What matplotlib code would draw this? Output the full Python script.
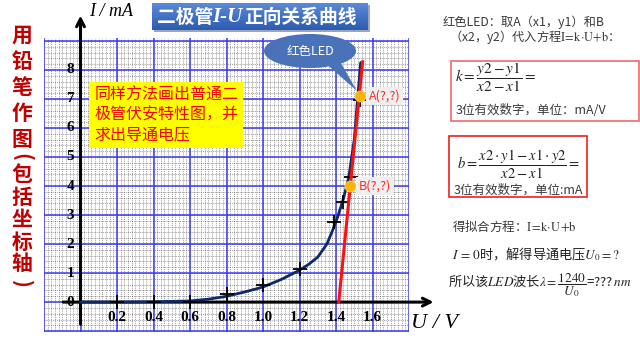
import matplotlib
matplotlib.use("Agg")
import matplotlib.pyplot as plt
import numpy as np
from matplotlib.patches import Ellipse, Polygon, Rectangle

plt.rcParams['font.family'] = ['Noto Sans CJK SC', 'DejaVu Sans']
plt.rcParams['mathtext.fontset'] = 'stix'

# measured points (U in V, I in mA)
u_pts = [0.2, 0.4, 0.6, 0.8, 1.0, 1.2, 1.39, 1.44, 1.48, 1.53]
i_pts = [0.0, 0.0, 0.0, 0.28, 0.58, 1.14, 2.76, 3.45, 4.3, 6.97]

# hand drawn curve
u_curve = [0, 0.2, 0.4, 0.6, 0.7, 0.8, 0.9, 1.0, 1.1, 1.2, 1.25, 1.3, 1.35, 1.38, 1.41, 1.44, 1.47, 1.5, 1.535]
i_curve = [0, 0, 0.01, 0.04, 0.1, 0.2, 0.35, 0.52, 0.78, 1.1, 1.3, 1.55, 2.0, 2.45, 2.95, 3.55, 4.3, 5.6, 8.25]

# red fitted line
u_line = [1.415, 1.546]
i_line = [0.0, 8.28]

# points A and B
u_ab = [1.53, 1.475]
i_ab = [7.1, 4.0]
ab_names = ['A(?,?)', 'B(?,?)']

x_ticks = [0.2, 0.4, 0.6, 0.8, 1.0, 1.2, 1.4, 1.6]
y_ticks = [0, 1, 2, 3, 4, 5, 6, 7, 8]


def fx(px):
    return px / 640


def fy(py):
    return 1 - py / 360


fig = plt.figure(figsize=(6.4, 3.6), dpi=100)
ax = fig.add_axes([fx(44), fy(332), 365 / 640, 294 / 360])
ax.set_xlim(-0.2, 1.8)
ax.set_ylim(-1.03, 9.1)
for s in ax.spines.values():
    s.set_visible(False)
ax.set_xticks([])
ax.set_yticks([])

# fine dashed grid
for xv in np.arange(-0.2, 1.8, 0.02):
    ax.axvline(xv, color='black', lw=0.5, ls=(0, (1.5, 1.5)), alpha=0.5, zorder=0)
for yv in np.arange(-1.0, 9.1, 0.2):
    ax.axhline(yv, color='black', lw=0.5, ls=(0, (1.5, 1.5)), alpha=0.5, zorder=0)
# blue major grid
for xv in np.arange(-0.2, 1.81, 0.2):
    ax.axvline(xv, color='#3a3aee', lw=1.1, zorder=1)
for yv in range(-1, 10):
    ax.axhline(yv, color='#3a3aee', lw=1.1, zorder=1)

# axes arrows
ax.annotate('', xy=(1.95, 0), xytext=(-0.11, 0), annotation_clip=False,
            arrowprops=dict(arrowstyle='->', lw=2.2, color='black', mutation_scale=14), zorder=3)
ax.annotate('', xy=(0, 9.97), xytext=(0, -0.86), annotation_clip=False,
            arrowprops=dict(arrowstyle='->', lw=2.2, color='black', mutation_scale=14), zorder=3)

for xv in x_ticks:
    ax.text(xv, -0.52, f'{xv:.1f}', ha='center', va='center', fontsize=11,
            family='Liberation Serif', weight='bold', zorder=4)
for yv in y_ticks:
    ax.text(-0.035, yv, str(yv), ha='right', va='center', fontsize=11,
            family='Liberation Serif', weight='bold', zorder=4)

ax.text(0.045, 10.0, 'I / mA', fontsize=13, family='Liberation Serif', style='italic',
        ha='left', va='center', clip_on=False)
ax.text(1.81, -0.72, 'U / V', fontsize=16, family='Liberation Serif', style='italic',
        ha='left', va='center', clip_on=False)

ax.plot(u_curve, i_curve, color='#0d2a66', lw=2, zorder=5, solid_capstyle='round')
ax.plot(u_pts, i_pts, ls='none', marker='+', ms=10, mew=1.3, color='black', zorder=6)
ax.plot(u_line, i_line, color='#ff1010', lw=2.2, zorder=7)
ax.plot(u_ab, i_ab, ls='none', marker='o', ms=7.5, color='#f5b400', mec='#f8c830', zorder=8)
for u, i, name in zip(u_ab, i_ab, ab_names):
    ax.text(u + 0.05, i, name, color='#ff2a2a', fontsize=9, ha='left', va='center', zorder=9,
            bbox=dict(boxstyle='square,pad=0.2', fc='#efefef', ec='none'))

# yellow note
ax.text(0.075, 6.45, '同样方法画出普通二\n极管伏安特性图，并\n求出导通电压', color='#ff0000',
        fontsize=11.5, ha='left', va='center', linespacing=1.2, zorder=9,
        bbox=dict(boxstyle='square,pad=0.3', fc='#ffff00', ec='none'))

# callout "红色LED"
fig.patches.append(Polygon([[fx(322), fy(60)], [fx(338), fy(58)], [fx(357), fy(91)]],
                           closed=True, transform=fig.transFigure, fc='#4a72b8', ec='none', zorder=10))
fig.patches.append(Ellipse((fx(310), fy(51)), 92 / 640, 34 / 360, transform=fig.transFigure,
                           fc='#4a72b8', ec='none', zorder=10))
fig.text(fx(310), fy(51), '红色LED', color='white', fontsize=9, ha='center', va='center', zorder=11)

# title box
fig.patches.append(Rectangle((fx(154), fy(32)), 216 / 640, 27 / 360, transform=fig.transFigure,
                             fc='#9aa6bb', ec='none', zorder=10))
tax = fig.add_axes([fx(152), fy(30), 216 / 640, 27 / 360], zorder=11)
grad = np.linspace(0, 1, 50).reshape(-1, 1)
tax.imshow(grad, aspect='auto', cmap=matplotlib.colors.LinearSegmentedColormap.from_list(
    'g', ['#5b8ad8', '#2c5bb0']), extent=(0, 1, 0, 1))
tax.axis('off')
fig.text(fx(157), fy(17), '二极管', color='white', fontsize=13.5, weight='bold', va='center', zorder=12)
fig.text(fx(212), fy(17), 'I-U', color='white', fontsize=15, weight='bold', style='italic',
         family='Liberation Serif', va='center', zorder=12)
fig.text(fx(244), fy(17), '正向关系曲线', color='white', fontsize=13.5, weight='bold', va='center', zorder=12)

# left vertical text
left_chars = ['用', '铅', '笔', '作', '图', '(', '包', '括', '坐', '标', '轴', ')']
left_y = [35, 62, 88, 113, 139, 157, 174, 197, 219, 242, 264, 284]
for ch, yy in zip(left_chars, left_y):
    rot = -90 if ch in '()' else 0
    fig.text(fx(22), fy(yy), ch, color='#c00000', fontsize=15, weight='bold', ha='center',
             va='center', rotation=rot)

# right side text
grey = '#3a3a3a'
fig.text(fx(443), fy(22), '红色LED：取A（x1，y1）和B', color=grey, fontsize=8.8, va='center')
fig.text(fx(449), fy(37), r'（x2，y2）代入方程$\mathrm{I\!=\!k\!\cdot\! U\!+\!b}$：', color=grey,
         fontsize=8.8, va='center')

fig.patches.append(Rectangle((fx(451), fy(121)), 188 / 640, 60 / 360, transform=fig.transFigure,
                             fc='none', ec='#f06a6a', lw=1.2))
fig.text(fx(455), fy(77), r'$k=\dfrac{y2-y1}{x2-x1}=$', fontsize=11, va='center', color='#222222')
fig.text(fx(456), fy(110), '3位有效数字，单位：mA/V', fontsize=9, va='center', color=grey)

fig.patches.append(Rectangle((fx(449), fy(197)), 138 / 640, 61 / 360, transform=fig.transFigure,
                             fc='none', ec='#ee2020', lw=1.2))
fig.text(fx(457), fy(164), r'$b=\dfrac{x2\cdot y1-x1\cdot y2}{x2-x1}=$', fontsize=10.5,
         va='center', color='#222222')
fig.text(fx(454), fy(190), '3位有效数字，单位:mA', fontsize=9, va='center', color=grey)

fig.text(fx(452), fy(226), r'得拟合方程：$\mathrm{I\!=\!k\!\cdot\! U\!+\!b}$', fontsize=9,
         va='center', color=grey)
fig.text(fx(452), fy(254), r'$I\,=\,0$时，解得导通电压$U_0=?$', fontsize=9.5, va='center', color='#222222')
fig.text(fx(448), fy(285), r'所以该$LED$波长$\lambda=\dfrac{1240}{U_0}$=???$\,nm$', fontsize=9.5,
         va='center', color='#222222')

fig.savefig('out.png', dpi=100)
